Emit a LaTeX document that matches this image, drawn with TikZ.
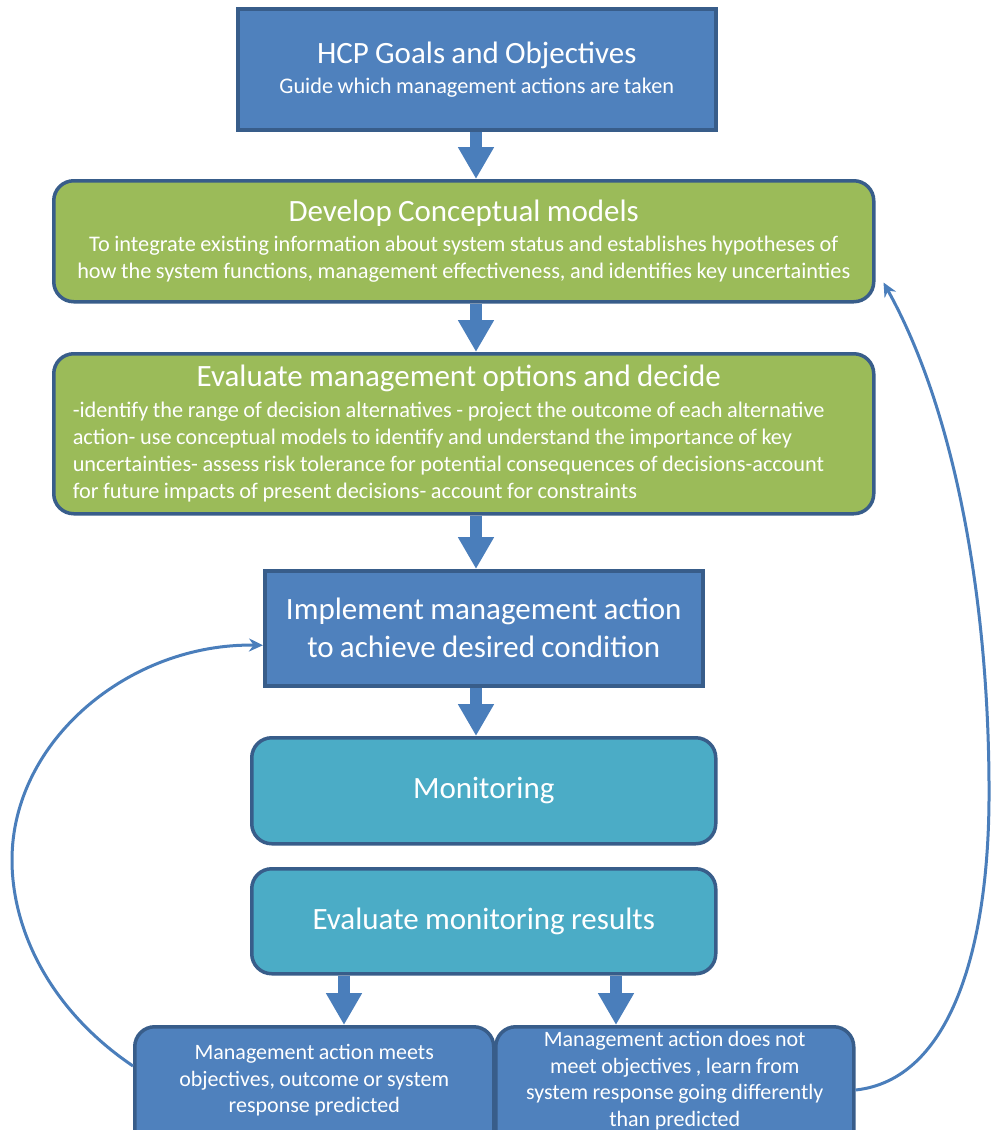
\documentclass[tikz,border=0pt]{standalone}
\usepackage{fontspec}
\setmainfont{Carlito}[WordSpace=0.9]
\usetikzlibrary{arrows.meta,calc}
\definecolor{boxblue}{HTML}{4F81BD}
\definecolor{edgeblue}{HTML}{385D8A}
\definecolor{boxgreen}{HTML}{9BBB59}
\definecolor{boxteal}{HTML}{4BACC6}
\definecolor{arrowblue}{HTML}{4A7EBB}
\newcommand\ttlfont{\fontsize{31}{38}\selectfont}
\newcommand\bdyfont{\fontsize{22.3}{27}\selectfont}
\newcommand\lstfont{\fontsize{22.3}{27}\selectfont}
\newcommand\smlfont{\fontsize{22}{26.5}\selectfont}
\begin{document}
\begin{tikzpicture}[x=1pt,y=-1pt,
  basebox/.style={draw=edgeblue, line width=3.5pt, text=white, inner sep=0pt, anchor=north west, align=flush center},
  sqbox/.style={basebox, fill=boxblue},
  greenbox/.style={basebox, fill=boxgreen, rounded corners=20pt},
  tealbox/.style={basebox, fill=boxteal, rounded corners=20pt},
  resbox/.style={basebox, fill=boxblue, rounded corners=20pt},
  blockarrow/.style={draw=arrowblue, line width=12pt, -{Triangle[length=32pt,width=34pt]}},
  looparrow/.style={draw=arrowblue, line width=3pt, -{Stealth[length=14pt,width=13pt]}}]
\useasboundingbox (0,0) rectangle (992,1130);
\clip (0,0) rectangle (992,1130);
\fill[white] (0,0) rectangle (992,1130);

\coordinate (ax) at (476,0);
\coordinate (bxl) at (344,0);
\coordinate (bxr) at (616,0);

\node[sqbox, text width=478pt, minimum height=121pt, font=\bdyfont] (hcp) at (236,7)
  {{\ttlfont HCP Goals and Objectives}\\[3pt]Guide which management actions are taken};

\node[greenbox, text width=820pt, minimum height=121pt, font=\bdyfont] (g1) at (52,179)
  {{\ttlfont Develop Conceptual models}\\[3pt]To integrate existing information about system status and establishes hypotheses of\\
   how the system functions, management effectiveness, and identifies key uncertainties};

\node[greenbox, text width=782pt, inner xsep=19pt, minimum height=160pt, font=\lstfont, align=flush left] (g2) at (52,352)
  {\makebox[772pt][c]{\ttlfont Evaluate management options and decide}\\[4pt]
   -identify the range of decision alternatives - project the outcome of each alternative\\
   action- use conceptual models to identify and understand the importance of key\\
   uncertainties- assess risk tolerance for potential consequences of decisions-account\\
   for future impacts of present decisions- account for constraints};

\node[sqbox, text width=438pt, minimum height=115pt, font=\ttlfont] (impl) at (263,569)
  {Implement management action\\to achieve desired condition};

\node[tealbox, text width=464pt, minimum height=106pt, font=\ttlfont] (mon) at (250,736) {Monitoring};

\node[tealbox, text width=464pt, minimum height=105pt, font=\ttlfont] (evm) at (250,867) {Evaluate monitoring results};

\node[resbox] (bl) at (133,1025)
  {\parbox[c][140pt][t]{359pt}{\centering\smlfont\rule{0pt}{33pt}Management action meets\\objectives, outcome or system\\response predicted}};

\node[resbox] (br) at (494,1025)
  {\parbox[c][140pt][t]{358pt}{\centering\smlfont\rule{0pt}{20pt}Management action does not\\meet objectives , learn from\\system response going differently\\than predicted}};

\draw[blockarrow] (hcp.south -| ax) -- (g1.north -| ax);
\draw[blockarrow] (g1.south -| ax) -- (g2.north -| ax);
\draw[blockarrow] (g2.south -| ax) -- (impl.north -| ax);
\draw[blockarrow] (impl.south -| ax) -- (mon.north -| ax);
\draw[blockarrow] (evm.south -| bxl) -- (bl.north -| bxl);
\draw[blockarrow] (evm.south -| bxr) -- (br.north -| bxr);

\coordinate (lstart) at ($(bl.north west)+(0,41)$);
\coordinate (lend) at ($(impl.west)+(0,17)$);
\draw[looparrow] (lstart) .. controls (50,1010) and (12,930) .. (12,860)
  .. controls (12,740) and (130,643) .. (lend);

\coordinate (rstart) at ($(br.north east)+(0,65)$);
\coordinate (rend) at ($(g1.south east)+(8,-21)$);
\draw[looparrow] (rstart) .. controls (950,1080) and (988,950) .. (989,800)
  .. controls (990,620) and (960,420) .. (rend);
\end{tikzpicture}
\end{document}
